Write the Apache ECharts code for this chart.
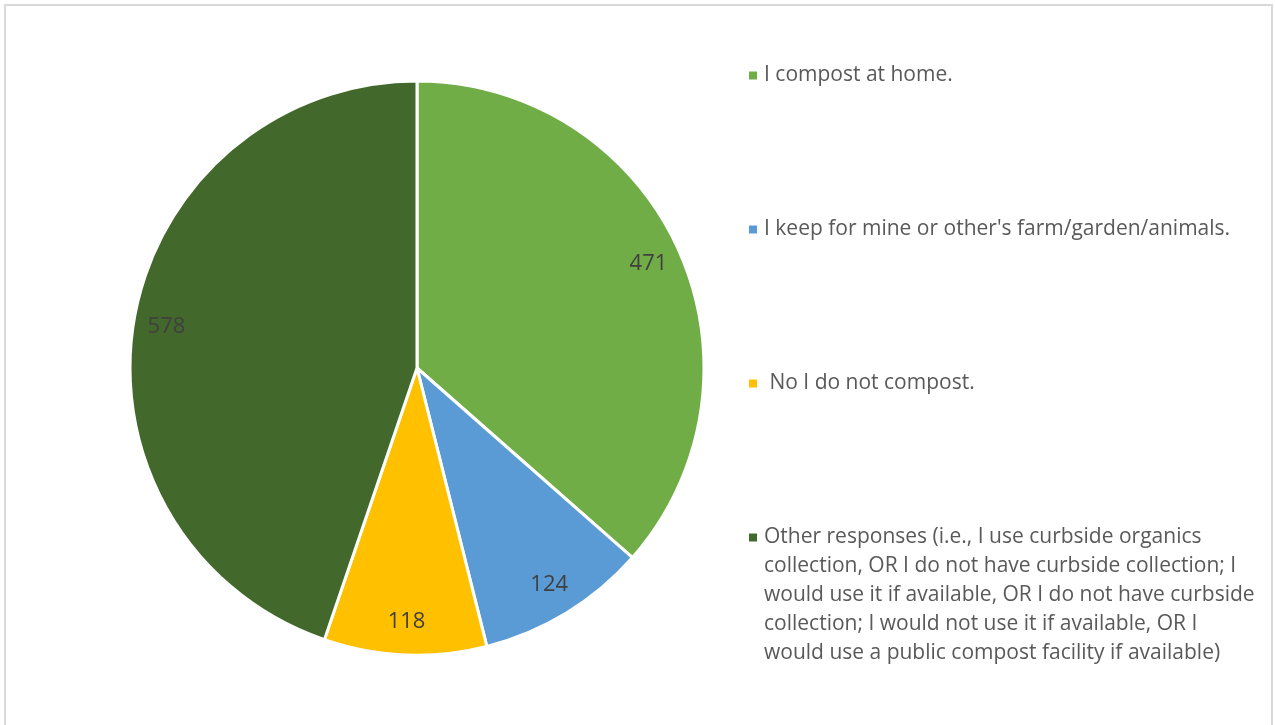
<!DOCTYPE html>
<html>
<head>
<meta charset="utf-8">
<title>Composting responses</title>
<script src="https://cdn.jsdelivr.net/npm/echarts@6/dist/echarts.min.js"></script>
<style>
  html, body { margin: 0; padding: 0; background: #ffffff; }
  #chart { width: 1275px; height: 725px; }
</style>
</head>
<body>
<div id="chart"></div>
<script>
// Survey answers and their counts
const categories = [
  'I compost at home.',
  "I keep for mine or other's farm/garden/animals.",
  ' No I do not compost.',
  'Other responses (i.e., I use curbside organics collection, OR I do not have curbside collection; I would use it if available, OR I do not have curbside collection; I would not use it if available, OR I would use a public compost facility if available)'
];
const values = [471, 124, 118, 578];
const colors = ['#70AD47', '#5B9BD5', '#FFC000', '#43682B'];

// Wrapped legend lines for each answer
const legendLines = [
  ['I compost at home.'],
  ["I keep for mine or other's farm/garden/animals."],
  [' No I do not compost.'],
  [
    'Other responses (i.e., I use curbside organics',
    'collection, OR I do not have curbside collection; I',
    'would use it if available, OR I do not have curbside',
    'collection; I would not use it if available, OR I',
    'would use a public compost facility if available)'
  ]
];
const legendTops = [65, 219, 373, 527];

const FONT = 'Open Sans';
const LINE_H = 29;

const pieData = categories.map((name, i) => ({
  name: name,
  value: values[i],
  itemStyle: { color: colors[i] }
}));

const legends = categories.map((name, i) => ({
  data: [name],
  orient: 'vertical',
  left: 743,
  top: legendTops[i],
  padding: 0,
  itemWidth: 0,
  itemHeight: 0,
  selectedMode: false,
  formatter: function () {
    return legendLines[i].map((line, k) =>
      (k === 0 ? '{sq' + i + '| }' : '{ind| }') + '{t|' + line + '}'
    ).join('\n');
  },
  textStyle: {
    fontFamily: FONT,
    fontSize: 21,
    color: '#595959',
    rich: {
      sq0: { width: 8, height: 8, backgroundColor: colors[0] },
      sq1: { width: 8, height: 8, backgroundColor: colors[1] },
      sq2: { width: 8, height: 8, backgroundColor: colors[2] },
      sq3: { width: 8, height: 8, backgroundColor: colors[3] },
      ind: { width: 8 },
      t: {
        fontFamily: FONT,
        fontSize: 21,
        color: '#595959',
        lineHeight: LINE_H,
        padding: [0, 0, 0, 7]
      }
    }
  }
}));

const chart = echarts.init(document.getElementById('chart'), null, { renderer: 'canvas' });

chart.setOption({
  backgroundColor: '#ffffff',
  animation: false,
  legend: legends,
  graphic: [{
    type: 'rect',
    silent: true,
    shape: { x: 5, y: 5, width: 1267, height: 740 },
    style: { fill: 'none', stroke: '#d9d9d9', lineWidth: 2 }
  }],
  series: [
    {
      name: 'Composting',
      type: 'pie',
      center: [417, 368],
      radius: 287,
      startAngle: 90,
      clockwise: true,
      silent: true,
      data: pieData,
      itemStyle: { borderColor: '#ffffff', borderWidth: 3 },
      label: { show: false },
      labelLine: { show: false }
    },
    {
      // value labels placed toward the rim of each slice
      name: 'Labels',
      type: 'pie',
      center: [417, 368],
      radius: [212, 290],
      startAngle: 90,
      clockwise: true,
      silent: true,
      data: pieData.map(d => ({ name: d.name, value: d.value })),
      itemStyle: { color: 'rgba(0,0,0,0)', borderWidth: 0 },
      label: {
        show: true,
        position: 'inside',
        formatter: '{c}',
        fontFamily: FONT,
        fontSize: 22,
        color: '#404040'
      },
      labelLine: { show: false },
      emphasis: { disabled: true }
    }
  ]
});
</script>
</body>
</html>
